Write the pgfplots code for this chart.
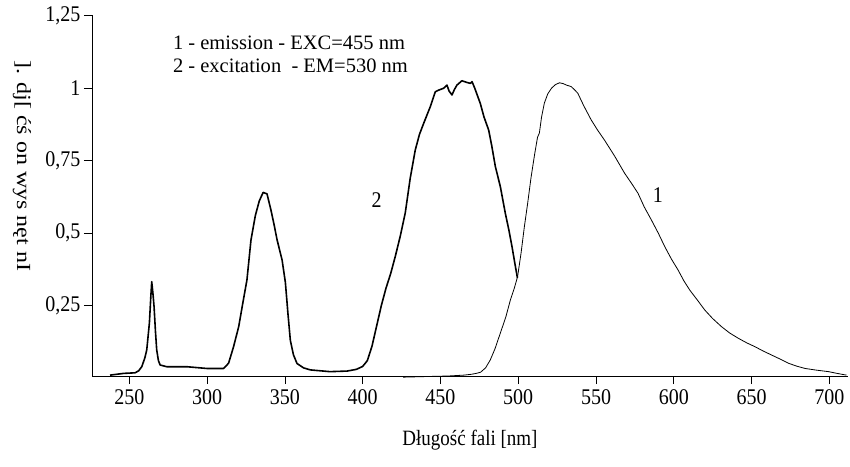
\documentclass[border=0pt]{standalone}
\usepackage{fontspec}
\setmainfont{Liberation Serif}
\usepackage{graphicx}
\usepackage{pgfplots}
\pgfplotsset{compat=1.18}
\begin{document}
\begin{tikzpicture}[x=1pt,y=1pt]
\useasboundingbox (0,0) rectangle (850,466);
\begin{axis}[
  at={(92pt,90pt)}, anchor=origin,
  scale only axis, width=756pt, height=360.5pt,
  xmin=226, xmax=712, ymin=0.007, ymax=1.25,
  axis lines*=left,
  axis line style={line width=0.8pt},
  xtick={250,300,...,700},
  ytick={0.25,0.5,0.75,1,1.25},
  tick align=outside,
  major tick length=8pt,
  tick style={line width=0.7pt,black},
  /pgf/number format/assume math mode=true,
  /pgf/number format/use comma,
  /pgf/number format/fixed,
  ticklabel style={font=\fontsize{20}{22}\selectfont},
  xticklabel={\scalebox{1}[1.12]{\pgfmathprintnumber{\tick}}},
  yticklabel={\scalebox{1}[1.12]{\pgfmathprintnumber{\tick}}},
  xticklabel style={yshift=-2pt},
  clip=false,
]
\addplot[black, line width=1.6pt, line join=round] coordinates {
(237.6,0.010)(242,0.013)(246.3,0.016)(250,0.017)(253.7,0.018)(256,0.025)(258,0.039)(260,0.07)
(261.2,0.097)(262.9,0.19)(263.8,0.28)(264.4,0.332)(265.2,0.29)(265.9,0.246)(266.8,0.16)(267.6,0.097)
(268.7,0.06)(269.8,0.045)(274,0.039)(287,0.039)(299.8,0.033)(310.6,0.033)(313.8,0.051)(317,0.108)
(320.3,0.177)(323,0.26)(325.6,0.338)(328.2,0.476)(331,0.56)(333.5,0.61)(336,0.64)(338.5,0.635)
(341,0.58)(343,0.53)(345,0.476)(348.2,0.407)(350.3,0.33)(352,0.22)(353.5,0.13)(355.5,0.08)
(357.8,0.05)(362,0.035)(366.4,0.028)(379,0.022)(390,0.024)(396,0.03)(400,0.04)(403,0.06)
(406,0.11)(409,0.18)(412,0.25)(415,0.31)(418,0.36)(421,0.42)(424.2,0.49)(427.4,0.57)
(430.6,0.69)(433.8,0.786)(436.5,0.84)(439.2,0.878)(443.5,0.936)(446.7,0.987)(449,0.993)(452,0.999)
(454.2,1.01)(455.5,0.99)(457.4,0.976)(459,0.995)(460.6,1.01)(463.8,1.025)(466.5,1.02)(469.2,1.016)
(470.3,1.022)(472,1.0)(475.6,0.947)(478,0.9)(481,0.855)(483,0.8)(485.3,0.729)(488.5,0.66)
(491.7,0.568)(494,0.51)(496,0.453)(498.2,0.384)(499.5,0.345)
};
\addplot[black, line width=0.8pt, line join=round] coordinates {
(426,0.003)(440,0.005)(455,0.007)(465,0.01)(470,0.013)(473,0.016)(475.8,0.02)(479,0.035)
(482,0.062)(485,0.10)(488.5,0.155)(492,0.21)(495,0.27)(497.5,0.31)(499.6,0.35)(501.8,0.43)
(503.9,0.52)(506,0.60)(508.2,0.69)(510.5,0.77)(512.4,0.83)(513.6,0.845)(515,0.90)(516.8,0.948)
(519,0.98)(521.5,1.0)(524,1.012)(526.5,1.018)(529,1.015)(531,1.01)(534,1.005)(536,0.995)
(538.3,0.982)(542,0.94)(546.9,0.89)(551,0.855)(555.5,0.82)(562,0.765)(568.4,0.706)(573,0.67)
(577,0.637)(581,0.59)(585.6,0.545)(590,0.50)(594.2,0.453)(598.5,0.41)(602.8,0.372)(606.5,0.335)
(610.3,0.303)(615,0.27)(620,0.234)(625,0.205)(630.7,0.177)(636,0.155)(641.5,0.137)(647,0.121)
(652.2,0.108)(657.5,0.093)(663,0.079)(668.5,0.065)(673.7,0.051)(679,0.041)(684.4,0.033)(692,0.027)
(699.5,0.022)(705,0.016)(711,0.01)
};
\node[anchor=west, font=\fontsize{20.5}{22}\selectfont, inner sep=0pt] at (axis cs:278,1.155) {1 - emission - EXC=455 nm};
\node[anchor=west, font=\fontsize{20.5}{22}\selectfont, inner sep=0pt] at (axis cs:278,1.075) {2 - excitation\ \ - EM=530 nm};
\node[font=\fontsize{20}{22}\selectfont] at (axis cs:408.9,0.614) {\scalebox{1}[1.12]{2}};
\node[font=\fontsize{20}{22}\selectfont] at (axis cs:589.7,0.63) {\scalebox{1}[1.12]{1}};
\end{axis}
\node[rotate=-90, font=\fontsize{20}{22}\selectfont] at (22,300) {\scalebox{1.2}[1]{]. dj[ ćś on wys nęt nI}};
\node[font=\fontsize{19}{21}\selectfont] at (470,26) {\scalebox{1}[1.15]{Długość fali [nm]}};
\end{tikzpicture}
\end{document}
